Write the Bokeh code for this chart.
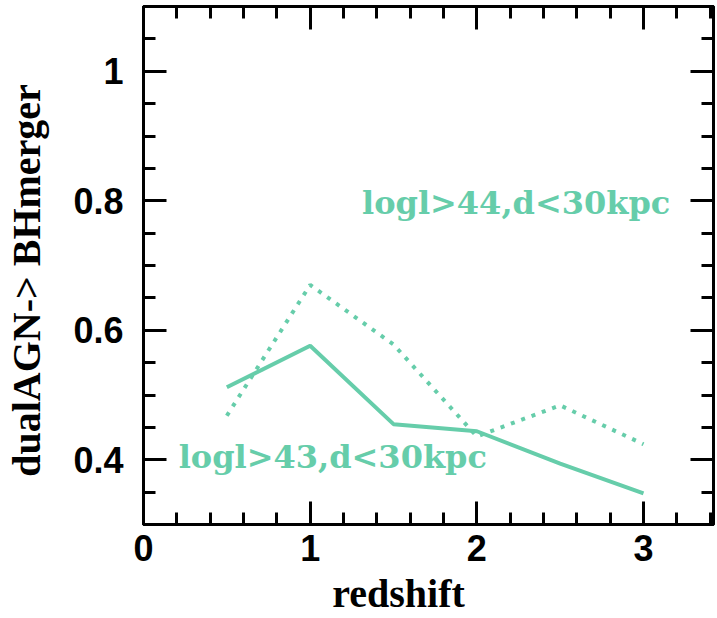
from bokeh.plotting import figure
from bokeh.models import Range1d, LinearAxis, FixedTicker, Label, CustomLabelingPolicy
from bokeh.embed import file_html
from bokeh.resources import INLINE

# data
redshift = [0.5, 1.0, 1.5, 2.0, 2.5, 3.0]
frac_43 = [0.512, 0.576, 0.455, 0.444, 0.394, 0.348]
frac_44 = [0.468, 0.670, 0.578, 0.436, 0.484, 0.424]
label_43 = "logl>43,d<30kpc"
label_44 = "logl>44,d<30kpc"
x_ticks = [0, 1, 2, 3]
y_ticks = [0.4, 0.6, 0.8, 1.0]
y_tick_labels = {0.4: "0.4", 0.6: "0.6", 0.8: "0.8", 1.0: "1"}

GREEN = "#66CDAA"
TICK_FONT = "Liberation Sans"
LABEL_FONT = "Liberation Serif"
NB = "\u00a0"

p = figure(width=717, height=618, output_backend="svg", toolbar_location=None,
           x_range=Range1d(0, 3.42), y_range=Range1d(0.3, 1.1),
           x_axis_type=None, y_axis_type=None,
           min_border_left=143, min_border_right=4, min_border_top=6,
           min_border_bottom=93)
p.grid.visible = False
p.outline_line_color = "black"
p.outline_line_width = 3
p.background_fill_color = "white"
p.border_fill_color = "white"

x_minor = [i * 0.2 for i in range(0, 18)]
y_minor = [0.3 + i * 0.05 for i in range(0, 17)]

hide_all = CustomLabelingPolicy(code="""
const out = [];
for (const i of indices) out.push(i);
for (const i of out) indices.unset(i);
return indices;
""")

def style(ax, show_labels):
    ax.axis_line_color = "black"
    ax.axis_line_width = 3
    ax.major_tick_line_width = 3
    ax.minor_tick_line_width = 3
    ax.major_tick_in = 23
    ax.major_tick_out = 0
    ax.minor_tick_in = 12
    ax.minor_tick_out = 0
    if show_labels:
        ax.major_label_text_font = TICK_FONT
        ax.major_label_text_font_style = "bold"
        ax.major_label_text_font_size = "36px"
        ax.major_label_text_color = "black"
        ax.axis_label_text_font = LABEL_FONT
        ax.axis_label_text_font_style = "bold"
        ax.axis_label_text_font_size = "40px"
        ax.axis_label_text_color = "black"
    else:
        ax.major_label_policy = hide_all
        ax.major_label_text_font_size = "0px"
        ax.major_label_standoff = 0

xb = LinearAxis(ticker=FixedTicker(ticks=x_ticks, minor_ticks=x_minor),
                axis_label="redshift" + NB * 6)
style(xb, True)
xb.major_label_standoff = 10
xb.axis_label_standoff = 7
p.add_layout(xb, "below")

xt = LinearAxis(ticker=FixedTicker(ticks=x_ticks, minor_ticks=x_minor))
style(xt, False)
p.add_layout(xt, "above")

yl = LinearAxis(ticker=FixedTicker(ticks=y_ticks, minor_ticks=y_minor),
                axis_label="dualAGN-> BHmerger" + NB * 3)
style(yl, True)
yl.major_label_overrides = y_tick_labels
yl.major_label_standoff = 20
yl.axis_label_standoff = 21
p.add_layout(yl, "left")

yr = LinearAxis(ticker=FixedTicker(ticks=y_ticks, minor_ticks=y_minor))
style(yr, False)
p.add_layout(yr, "right")

p.line(redshift, frac_43, line_color=GREEN, line_width=4)
p.line(redshift, frac_44, line_color=GREEN, line_width=4, line_dash="4 7")

p.add_layout(Label(x=1.311, y=0.797, text=label_44, text_color=GREEN,
                   text_font="DejaVu Serif", text_font_style="bold",
                   text_font_size="32px", text_align="left",
                   text_baseline="alphabetic"))
p.add_layout(Label(x=0.211, y=0.405, text=label_43, text_color=GREEN,
                   text_font="DejaVu Serif", text_font_style="bold",
                   text_font_size="32px", text_align="left",
                   text_baseline="alphabetic"))

open("out.html", "w").write(file_html(p, INLINE))
